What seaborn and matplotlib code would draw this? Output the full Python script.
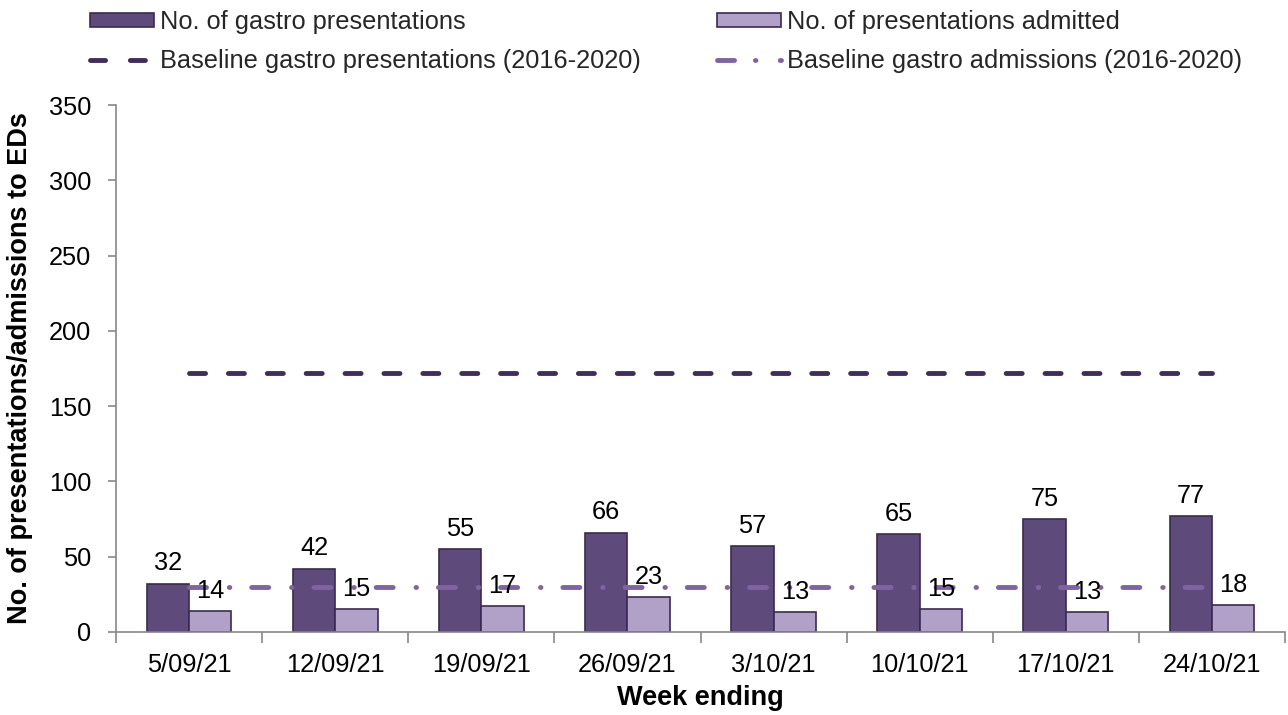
import matplotlib
matplotlib.use("Agg")
import matplotlib.pyplot as plt
import matplotlib.patches as mpatches
from matplotlib.lines import Line2D
from matplotlib.ticker import FixedLocator
import numpy as np
import pandas as pd
import seaborn as sns

weeks = ["5/09/21", "12/09/21", "19/09/21", "26/09/21", "3/10/21", "10/10/21", "17/10/21", "24/10/21"]
presentations = [32, 42, 55, 66, 57, 65, 75, 77]
admitted = [14, 15, 17, 23, 13, 15, 13, 18]
baseline_presentations = [172, 172, 172, 172, 172, 172, 172, 172]
baseline_admissions = [30, 30, 30, 30, 30, 30, 30, 30]

lab_pres = "No. of gastro presentations"
lab_adm = "No. of presentations admitted"
lab_bpres = "Baseline gastro presentations (2016-2020)"
lab_badm = "Baseline gastro admissions (2016-2020)"

sns.set_theme(style="white")
plt.rcParams["font.family"] = ["Liberation Sans", "DejaVu Sans"]

FS = 18.3
FS_LAB = 19.5

dark = "#5E4A7B"
light = "#B1A0C7"
edge = "#3A2B52"
line_dark = "#3F2E5B"
line_light = "#8064A2"

df = pd.DataFrame({
    "week": weeks * 2,
    "value": presentations + admitted,
    "series": [lab_pres] * len(weeks) + [lab_adm] * len(weeks),
})

fig = plt.figure(figsize=(12.88, 7.15), dpi=100)
ax = fig.add_axes([0.0901, 0.1161, 0.9076, 0.737])

sns.barplot(data=df, x="week", y="value", hue="series", order=weeks,
            hue_order=[lab_pres, lab_adm], palette=[dark, light],
            width=0.58, gap=0, edgecolor=edge, linewidth=1.2,
            ax=ax, legend=False, saturation=1)

for cont in ax.containers:
    ax.bar_label(cont, padding=6, fontsize=FS, color="black")

x = np.arange(len(weeks))
ax.plot(x, baseline_presentations, color=line_dark, lw=3.5,
        linestyle=(0, (3.3, 4.7)), dash_capstyle="round")
ax.plot(x, baseline_admissions, color=line_light, lw=3.5,
        linestyle=(0, (3.5, 4.7, 0.1, 4.5)), dash_capstyle="round")

ax.set_ylim(0, 350)
ax.set_yticks(range(0, 351, 50))
ax.set_xlim(-0.5, len(weeks) - 0.5)

for s in ["top", "right"]:
    ax.spines[s].set_visible(False)
for s in ["left", "bottom"]:
    ax.spines[s].set_color("#888888")
    ax.spines[s].set_linewidth(1.2)

ax.tick_params(axis="y", which="major", left=True, length=6, color="#888888",
               width=1.2, labelsize=FS, pad=12, labelcolor="black")
ax.tick_params(axis="x", which="major", bottom=True, length=0, labelsize=FS,
               pad=15, labelcolor="black")
ax.xaxis.set_minor_locator(FixedLocator(np.arange(-0.5, len(weeks), 1.0)))
ax.tick_params(axis="x", which="minor", bottom=True, length=8, color="#888888",
               width=1.2)

ax.set_xlabel("Week ending", fontsize=FS_LAB, fontweight="bold", labelpad=6,
              color="black")
ax.set_ylabel("No. of presentations/admissions to EDs", fontsize=FS_LAB,
              fontweight="bold", labelpad=11, color="black")

h1 = mpatches.Patch(facecolor=dark, edgecolor=edge, linewidth=1.2)
h2 = mpatches.Patch(facecolor=light, edgecolor=edge, linewidth=1.2)
h3 = Line2D([], [], color=line_dark, lw=3.5, linestyle=(0, (3.1, 5.1)),
            dash_capstyle="round")
h4 = Line2D([], [], color=line_light, lw=3.5, linestyle=(0, (3.5, 4.3, 0.1, 5.0)),
            dash_capstyle="round")
fig.legend([h1, h3, h2, h4], [lab_pres, lab_bpres, lab_adm, lab_badm],
           ncol=2, loc="upper left", bbox_to_anchor=(0.0699, 0.986),
           frameon=False, fontsize=FS, handlelength=2.5, handleheight=0.5,
           handletextpad=0.25, columnspacing=3.0, labelspacing=0.6,
           borderpad=0, borderaxespad=0)

fig.savefig("out.png", dpi=100)
